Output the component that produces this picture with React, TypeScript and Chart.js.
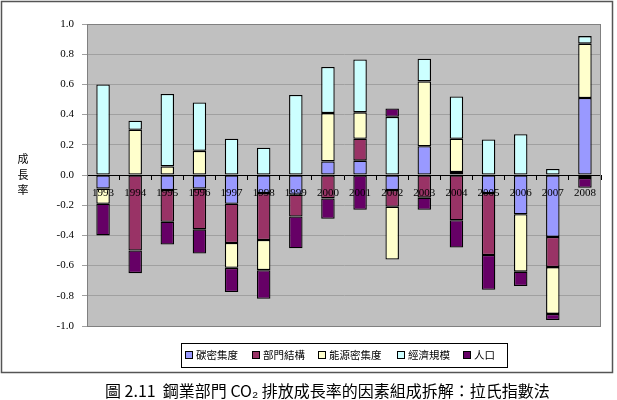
import React, { useEffect, useRef } from "react";
import { Chart, registerables } from "chart.js";

Chart.register(...registerables);

const years = ["1993", "1994", "1995", "1996", "1997", "1998", "1999", "2000", "2001", "2002", "2003", "2004", "2005", "2006", "2007", "2008"];
const carbonIntensity = [-0.09, 0, -0.1, -0.09, -0.19, -0.12, -0.13, 0.09, 0.095, -0.1, 0.19, 0.02, -0.12, -0.26, -0.41, 0.51];
const sectorStructure = [0, -0.5, -0.21, -0.27, -0.26, -0.31, -0.145, -0.155, 0.145, -0.11, -0.15, -0.3, -0.41, 0, -0.2, -0.02];
const energyIntensity = [-0.1, 0.3, 0.057, 0.16, -0.165, -0.2, 0, 0.32, 0.175, -0.35, 0.43, 0.22, 0, -0.38, -0.31, 0.36];
const economicScale = [0.6, 0.06, 0.48, 0.32, 0.24, 0.18, 0.53, 0.305, 0.35, 0.385, 0.15, 0.28, 0.235, 0.27, 0.04, 0.05];
const population = [-0.21, -0.15, -0.15, -0.16, -0.16, -0.19, -0.21, -0.135, -0.23, 0.055, -0.08, -0.18, -0.23, -0.095, -0.04, -0.065];

const seriesNames = ["碳密集度", "部門結構", "能源密集度", "經濟規模", "人口"];
const seriesColors = ["#9999FF", "#993366", "#FFFFCC", "#CCFFFF", "#660066"];
const yTitle = ["成", "長", "率"];
const caption = "圖 2.11  鋼業部門 CO₂ 排放成長率的因素組成拆解：拉氏指數法";

const CJK = '"Noto Sans CJK TC", "Noto Sans CJK SC", sans-serif';
const SERIF = "Liberation Serif";

const decorPlugin = {
  id: "decor",
  beforeDraw(chart: any) {
    const { ctx, chartArea } = chart;
    ctx.save();
    ctx.fillStyle = "#ffffff";
    ctx.fillRect(0, 0, chart.width, chart.height);
    ctx.fillStyle = "#C0C0C0";
    ctx.fillRect(chartArea.left, chartArea.top, chartArea.right - chartArea.left, chartArea.bottom - chartArea.top);
    ctx.restore();
  },
  afterDraw(chart: any) {
    const { ctx, chartArea } = chart;
    ctx.save();
    // plot area border
    ctx.strokeStyle = "#808080";
    ctx.lineWidth = 1;
    ctx.strokeRect(chartArea.left + 0.5, chartArea.top + 0.5, chartArea.right - chartArea.left - 1, chartArea.bottom - chartArea.top);
    // outer frame
    ctx.strokeStyle = "#555555";
    ctx.lineWidth = 1.5;
    ctx.strokeRect(1.5, 1.5, 611, 371);
    // y title (upright stacked characters)
    ctx.fillStyle = "#000";
    ctx.font = `11px ${CJK}`;
    ctx.textAlign = "center";
    ctx.textBaseline = "middle";
    yTitle.forEach((ch, i) => ctx.fillText(ch, 23, 159 + i * 15.5));
    // legend
    ctx.strokeStyle = "#000";
    ctx.lineWidth = 1;
    ctx.strokeRect(181.5, 343.5, 326, 24);
    const swX = [185, 252, 318, 397, 463];
    ctx.font = `10.5px ${CJK}`;
    ctx.textAlign = "left";
    seriesNames.forEach((name, i) => {
      ctx.fillStyle = seriesColors[i];
      ctx.fillRect(swX[i] + 0.5, 351.5, 7, 7);
      ctx.strokeStyle = "#000";
      ctx.strokeRect(swX[i] + 0.5, 351.5, 7, 7);
      ctx.fillStyle = "#000";
      ctx.fillText(name, swX[i] + 11, 355.5);
    });
    // caption
    ctx.font = `16px ${CJK}`;
    ctx.fillStyle = "#000";
    ctx.textAlign = "left";
    ctx.fillText(caption, 105, 391);
    ctx.restore();
  },
};

export default function App() {
  const ref = useRef<HTMLCanvasElement>(null);
  useEffect(() => {
    if (!ref.current) return;
    const datasets = [carbonIntensity, sectorStructure, energyIntensity, economicScale, population].map((d, i) => ({
      label: seriesNames[i],
      data: d,
      backgroundColor: seriesColors[i],
      borderColor: "#000000",
      borderWidth: 1.3,
      borderSkipped: false as any,
      barPercentage: 0.42,
      categoryPercentage: 1,
    }));
    const chart = new Chart(ref.current, {
      type: "bar",
      data: { labels: years, datasets },
      options: {
        responsive: false,
        animation: false,
        layout: { padding: { left: 0, right: 16, top: 24, bottom: 74 } },
        plugins: { legend: { display: false }, tooltip: { enabled: false } },
        scales: {
          x: {
            type: "category",
            stacked: true,
            offset: true,
            position: { y: 0 } as any,
            grid: { display: true, drawOnChartArea: false, drawTicks: true, tickLength: 4, color: "#000", offset: true, z: 1 },
            border: { display: true, color: "#000", width: 1, z: 1 },
            ticks: { font: { family: SERIF, size: 11 }, color: "#000", padding: 8, maxRotation: 0, autoSkip: false, z: 1 },
          },
          y: {
            stacked: true,
            min: -1,
            max: 1,
            ticks: {
              stepSize: 0.2,
              font: { family: SERIF, size: 11 },
              color: "#000",
              padding: 8,
              callback: (v: any) => (Math.abs(v) < 1e-9 ? "0.0" : Number(v).toFixed(1)),
            },
            grid: { color: "#A0A0A0", tickLength: 5, drawTicks: true },
            border: { display: true, color: "#808080" },
            afterFit: (s: any) => {
              s.width = 87;
            },
          },
        },
      },
      plugins: [decorPlugin],
    });
    if ((document as any).fonts && (document as any).fonts.ready) {
      (document as any).fonts.ready.then(() => {
        try { chart.update(); } catch (e) {}
      });
    }
    return () => chart.destroy();
  }, []);
  return (
    <div style={{ position: "absolute", left: 0, top: 0, width: 617, height: 400 }}>
      <canvas ref={ref} width={617} height={400} />
    </div>
  );
}
